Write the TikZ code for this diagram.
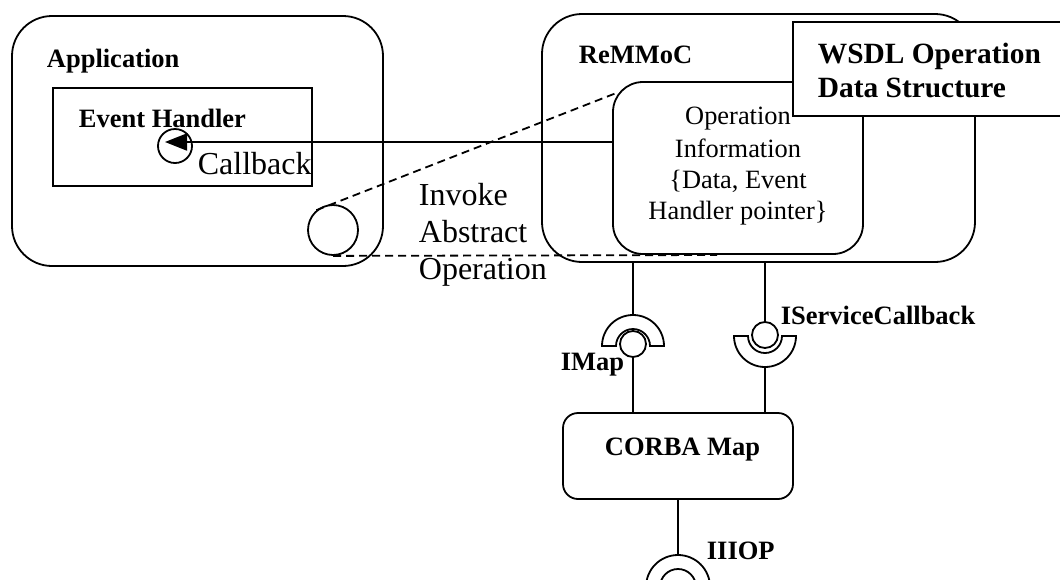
\documentclass[tikz,border=0pt]{standalone}
\usepackage{fontspec}
\setmainfont{Liberation Serif}
\usetikzlibrary{arrows.meta,calc}
\begin{document}
\begin{tikzpicture}[x=1pt,y=1pt,line width=1.8pt,
  box/.style={draw, line width=1.8pt, inner sep=0pt, fill=white},
  rbox/.style={box, rounded corners=#1},
  blabel/.style={anchor=base west, inner sep=0pt, font=\fontsize{26.5}{30}\selectfont\bfseries},
  bigtext/.style={anchor=base west, inner sep=0pt, font=\fontsize{32}{37}\selectfont},
  infotext/.style={anchor=base, inner sep=0pt, font=\fontsize{26.4}{31}\selectfont},
  wsdltext/.style={anchor=base west, inner sep=0pt, font=\fontsize{29.4}{34}\selectfont\bfseries},
  dashline/.style={dash pattern=on 8pt off 5pt},
  ball/.style={circle, draw, fill=white, inner sep=0pt, minimum size=26pt},
  sock/.style={draw, fill=white}
]
\useasboundingbox (0,0) rectangle (1060,-579);

% Application
\node[rbox=40pt, minimum width=371pt, minimum height=250pt] (app) at (197.5,-141) {};
\node[blabel] (applbl) at (46,-67) {Application};
\node[box, minimum width=259pt, minimum height=98pt] (eh) at (182.5,-137) {};
\node[blabel] (ehlbl) at (78,-127) {Event Handler};
\node[circle, draw, inner sep=0pt, minimum size=34pt] (cbc) at (175,-146) {};
\coordinate (cbtip) at (165,-142);
\node[bigtext] (cblbl) at (197,-174) {Callback};
\node[circle, draw, inner sep=0pt, minimum size=50pt] (inv) at (333,-230) {};

% ReMMoC
\node[rbox=40pt, minimum width=433pt, minimum height=248pt] (rem) at (758.5,-138) {};
\node[blabel] (remlbl) at (578,-63) {ReMMoC};

% dashed lines
\coordinate (dend) at (717,-255);
\draw[dashline] (inv.south) -- (dend);

\node[rbox=30pt, minimum width=250pt, minimum height=172pt] (opi) at (738,-168) {};
\draw[dashline] (inv.130) -- ($(opi.north west)+(4,-12)$);

% callback connector
\draw[-{Triangle[length=22pt,width=17pt]}] (opi.west |- cbtip) -- (cbtip);

% WSDL box
\node[box, minimum width=290pt, minimum height=94pt] (wsdl) at (938,-69) {};
\node[wsdltext] (w1) at (817,-63) {WSDL Operation};
\node[wsdltext] (w2) at (817,-97) {Data Structure};

% operation info text
\node[infotext] (o1) at (738,-124) {Operation};
\node[infotext] (o2) at (738,-157) {Information};
\node[infotext] (o3) at (738,-188) {\{Data, Event};
\node[infotext] (o4) at (738,-219) {Handler pointer\}};

\node[bigtext] (iv1) at (418,-205) {Invoke};
\node[bigtext] (iv2) at (418,-242) {Abstract};
\node[bigtext] (iv3) at (418,-279) {Operation};

% CORBA Map
\node[rbox=15pt, minimum width=230pt, minimum height=86pt] (corba) at (678,-456) {};
\node[blabel] (corbalbl) at (604,-455) {CORBA Map};

% IMap interface
\coordinate (imaptop) at (633,-315);
\draw (rem.south -| imaptop) -- (imaptop);
\draw[sock] (602,-346) arc[start angle=180, end angle=0, radius=31] -- (650,-346) arc[start angle=0, end angle=180, radius=17] -- cycle;
\node[ball] (imapball) at (633,-344) {};
\draw (imapball.south) -- (corba.north -| imapball);
\node[blabel] (imaplbl) at (560,-370) {IMap};

% IServiceCallback interface
\coordinate (iscbot) at (765,-367);
\draw[sock] (734,-336) arc[start angle=180, end angle=360, radius=31] -- (782,-336) arc[start angle=360, end angle=180, radius=17] -- cycle;
\node[ball] (iscball) at (765,-335) {};
\draw (rem.south -| iscball) -- (iscball.north);
\draw (iscbot) -- (corba.north -| iscbot);
\node[blabel] (isclbl) at (780,-324) {IServiceCallback};

% IIOP
\node[circle, draw, inner sep=0pt, minimum size=64pt] (iiopo) at (678,-587) {};
\node[circle, draw, inner sep=0pt, minimum size=36pt] (iiopi) at (678,-587) {};
\draw (corba.south -| iiopo) -- (iiopo.north);
\node[blabel] (iioplbl) at (706,-559) {IIIOP};
\end{tikzpicture}
\end{document}
